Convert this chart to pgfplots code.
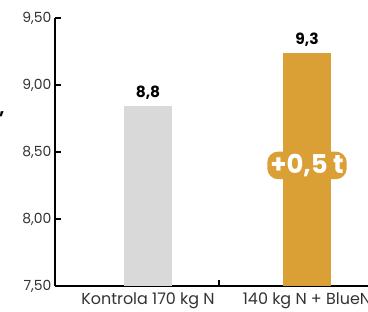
\documentclass[border=0pt]{standalone}
\usepackage{fontspec}
\setmainfont{Poppins}
\usepackage{pgfplots}
\pgfplotsset{compat=1.18}
\definecolor{barGray}{HTML}{D9D9D9}
\definecolor{barGold}{HTML}{DAA036}
\definecolor{txt}{HTML}{333333}
\begin{document}
\begin{tikzpicture}
\useasboundingbox (0bp,0bp) rectangle (368bp,312bp);
\begin{scope}
\clip (0bp,0bp) rectangle (368bp,312bp);
\fill[white] (0bp,0bp) rectangle (368bp,312bp);
\begin{axis}[
  at={(55bp,26bp)}, anchor=south west,
  scale only axis, width=345bp, height=268bp,
  xmin=55, xmax=400, ymin=7.5, ymax=9.5,
  axis x line=bottom, axis y line=left,
  axis line style={-, line width=2.2bp, black},
  ytick={7.5,8,8.5,9,9.5},
  xtick={219}, xticklabels={},
  tick align=inside, major tick length=6bp,
  tick style={line width=2bp, black},
  tick label style={font=\fontsize{14}{16}\selectfont, text=txt},
  extra x ticks={148,307},
  extra x tick labels={Kontrola 170 kg N, 140 kg N + BlueN},
  extra x tick style={major tick length=0pt,
    tick label style={font=\fontsize{16}{18}\selectfont, text=txt, yshift=-3bp}},
  /pgf/number format/fixed,
  /pgf/number format/fixed zerofill,
  /pgf/number format/precision=2,
  /pgf/number format/use comma,
  /pgf/number format/assume math mode=true,
]
\addplot[ybar, bar width=48, fill=barGray, draw=none,
  nodes near coords, point meta=explicit symbolic,
  nodes near coords style={font=\bfseries\fontsize{15.5}{17}\selectfont, text=black, anchor=south, yshift=3bp}]
  table[meta=lab] {
x y lab
148 8.84 8,8
};
\addplot[ybar, bar width=48, fill=barGold, draw=none,
  nodes near coords, point meta=explicit symbolic,
  nodes near coords style={font=\bfseries\fontsize{15.5}{17}\selectfont, text=black, anchor=south, yshift=3bp}]
  table[meta=lab] {
x y lab
307 9.24 9,3
};
\coordinate (ann) at (axis cs:307,8.40);
\end{axis}
\node[font=\bfseries\fontsize{26}{28}\selectfont, text=white, fill=barGold,
  rounded corners=11bp, inner xsep=3bp, inner ysep=2.5bp] at (ann) {+0,5 t};
\node[font=\bfseries\fontsize{18}{20}\selectfont, anchor=base] at (2bp,197bp) {,};
\end{scope}
\end{tikzpicture}
\end{document}
